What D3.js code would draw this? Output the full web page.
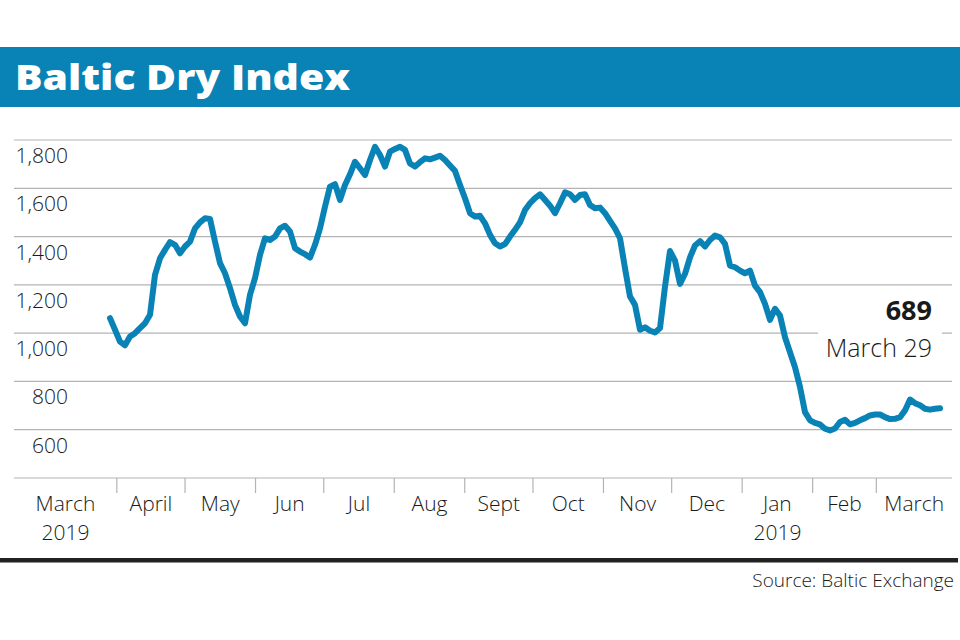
<!DOCTYPE html>
<html>
<head>
<meta charset="utf-8">
<script src="https://cdn.jsdelivr.net/npm/d3@7"></script>
<style>
	body { margin: 0; background: #fff; }
	svg text { font-family: "Open Sans", "Noto Sans", sans-serif; }
</style>
</head>
<body>
<div id="chart"></div>
<script>
	//Title and source
	var chartTitle = "Baltic Dry Index";
	var sourceText = "Source: Baltic Exchange";

	//First and last day of the series
	var startDate = "2018-03-29",
		endDate = "2019-03-29";

	//Index values, evenly spaced from start to end
	var bdiValues = [
		1062, 1014, 965, 950, 986, 1000, 1021, 1041, 1076, 1241,
		1310, 1345, 1377, 1366, 1331, 1359, 1379, 1434, 1459, 1476,
		1473, 1379, 1290, 1248, 1186, 1117, 1069, 1041, 1159, 1228,
		1324, 1393, 1386, 1400, 1434, 1445, 1421, 1352, 1338, 1327,
		1313, 1366, 1434, 1524, 1607, 1617, 1552, 1614, 1658, 1710,
		1683, 1655, 1717, 1772, 1738, 1690, 1752, 1763, 1772, 1759,
		1703, 1690, 1708, 1724, 1720, 1727, 1735, 1717, 1694, 1672,
		1614, 1559, 1497, 1483, 1486, 1455, 1407, 1372, 1359, 1369,
		1400, 1428, 1459, 1510, 1538, 1559, 1575, 1552, 1528, 1497,
		1538, 1583, 1575, 1552, 1572, 1575, 1531, 1517, 1520, 1497,
		1465, 1434, 1393, 1269, 1152, 1117, 1014, 1024, 1010, 1003,
		1021, 1193, 1340, 1300, 1204, 1246, 1314, 1363, 1381, 1359,
		1386, 1404, 1397, 1370, 1280, 1273, 1259, 1248, 1259, 1197,
		1170, 1121, 1055, 1101, 1073, 983, 921, 859, 777, 673,
		639, 628, 622, 604, 597, 605, 632, 641, 622, 628,
		639, 648, 659, 663, 663, 652, 644, 645, 652, 680,
		725, 710, 701, 687, 683, 687, 689
	];

	//Y axis
	var yTicks = [600, 800, 1000, 1200, 1400, 1600, 1800];
	var yMin = 400, yMax = 1800;

	//X axis: month boundaries and the labels that sit between them
	var monthStarts = ["2018-04-01", "2018-05-01", "2018-06-01", "2018-07-01", "2018-08-01", "2018-09-01",
		"2018-10-01", "2018-11-01", "2018-12-01", "2019-01-01", "2019-02-01", "2019-03-01"];
	var monthLabels = [["March", "2019"], ["April"], ["May"], ["Jun"], ["Jul"], ["Aug"], ["Sept"],
		["Oct"], ["Nov"], ["Dec"], ["Jan", "2019"], ["Feb"], ["March"]];

	//Last value callout
	var lastValue = 689,
		lastLabel = "March 29";

	var width = 960,
		height = 640;
	var blue = "#0983b6";
	var ink = "#1a1a1a";
	var parseDate = d3.timeParse("%Y-%m-%d");

	//Scales
	var x = d3.scaleTime()
		.domain([parseDate(startDate), parseDate(endDate)])
		.range([110, 940]);
	var y = d3.scaleLinear()
		.domain([yMin, yMax])
		.range([478, 140]);
	var gridLeft = 14, gridRight = 952;

	//interpolateDate reuses one Date object, so copy it
	var dateAt = d3.interpolateDate(parseDate(startDate), parseDate(endDate));
	var data = bdiValues.map(function (v, i) {
		return { date: new Date(+dateAt(i / (bdiValues.length - 1))), value: v };
	});

	//Create SVG element
	var svg = d3.select("#chart").append("svg")
		.attr("width", width)
		.attr("height", height);

	svg.append("rect")
		.attr("width", width)
		.attr("height", height)
		.attr("fill", "#fff");

	//Title bar
	svg.append("rect")
		.attr("x", 0)
		.attr("y", 47)
		.attr("width", width)
		.attr("height", 60)
		.attr("fill", blue);
	svg.append("text")
		.attr("x", 15)
		.attr("y", 90)
		.attr("fill", "#fff")
		.attr("font-size", 35)
		.attr("font-weight", 800)
		.attr("textLength", 335)
		.attr("lengthAdjust", "spacingAndGlyphs")
		.text(chartTitle);

	//Gridlines and y labels
	svg.append("g")
		.selectAll("line")
		.data(yTicks)
		.enter().append("line")
		.attr("x1", gridLeft)
		.attr("x2", gridRight)
		.attr("y1", function (d) { return y(d); })
		.attr("y2", function (d) { return y(d); })
		.attr("stroke", "#b4b4b4")
		.attr("stroke-width", 1.2);

	svg.append("g")
		.selectAll("text")
		.data(yTicks)
		.enter().append("text")
		.attr("x", 68)
		.attr("y", function (d) { return y(d) + 23; })
		.attr("text-anchor", "end")
		.attr("font-size", 21)
		.attr("font-weight", 300)
		.attr("fill", ink)
		.text(function (d) { return d3.format(",")(d); });

	//Bottom axis line and month ticks
	svg.append("line")
		.attr("x1", gridLeft)
		.attr("x2", gridRight)
		.attr("y1", y(yMin))
		.attr("y2", y(yMin))
		.attr("stroke", "#b4b4b4")
		.attr("stroke-width", 1.2);

	var tickX = monthStarts.map(function (d) { return x(parseDate(d)); });
	svg.append("g")
		.selectAll("line")
		.data(tickX)
		.enter().append("line")
		.attr("x1", function (d) { return d; })
		.attr("x2", function (d) { return d; })
		.attr("y1", y(yMin))
		.attr("y2", y(yMin) + 15)
		.attr("stroke", "#b4b4b4")
		.attr("stroke-width", 1.2);

	//One text per label row, centred between month ticks
	var bounds = [gridLeft].concat(tickX).concat([gridRight]);
	var labelRows = [];
	monthLabels.forEach(function (rows, i) {
		rows.forEach(function (t, j) {
			labelRows.push({ text: t, cx: (bounds[i] + bounds[i + 1]) / 2, row: j });
		});
	});
	svg.append("g")
		.selectAll("text")
		.data(labelRows)
		.enter().append("text")
		.attr("x", function (d) { return d.cx; })
		.attr("y", function (d) { return y(yMin) + 33 + d.row * 29; })
		.attr("text-anchor", "middle")
		.attr("font-size", 21)
		.attr("font-weight", 300)
		.attr("fill", ink)
		.text(function (d) { return d.text; });

	//The index line
	var line = d3.line()
		.x(function (d) { return x(d.date); })
		.y(function (d) { return y(d.value); });

	svg.append("path")
		.datum(data)
		.attr("d", line)
		.attr("fill", "none")
		.attr("stroke", blue)
		.attr("stroke-width", 6)
		.attr("stroke-linejoin", "round")
		.attr("stroke-linecap", "round");

	//Callout for the last value
	var calloutX = x(parseDate(endDate)) - 8;
	var calloutY = y(lastValue);
	svg.append("rect")
		.attr("x", calloutX - 114)
		.attr("y", calloutY - 78)
		.attr("width", 124)
		.attr("height", 34)
		.attr("fill", "#fff");
	svg.append("text")
		.attr("x", calloutX)
		.attr("y", calloutY - 88)
		.attr("text-anchor", "end")
		.attr("font-size", 27)
		.attr("font-weight", 700)
		.attr("fill", ink)
		.text(d3.format(",")(lastValue));
	svg.append("text")
		.attr("x", calloutX)
		.attr("y", calloutY - 51)
		.attr("text-anchor", "end")
		.attr("font-size", 25)
		.attr("font-weight", 300)
		.attr("fill", ink)
		.text(lastLabel);

	//Footer rule and source
	svg.append("rect")
		.attr("x", 0)
		.attr("y", 558)
		.attr("width", 958)
		.attr("height", 4.5)
		.attr("fill", "#222");
	svg.append("text")
		.attr("x", 954)
		.attr("y", 587)
		.attr("text-anchor", "end")
		.attr("font-size", 19)
		.attr("font-weight", 300)
		.attr("fill", ink)
		.text(sourceText);
</script>
</body>
</html>
